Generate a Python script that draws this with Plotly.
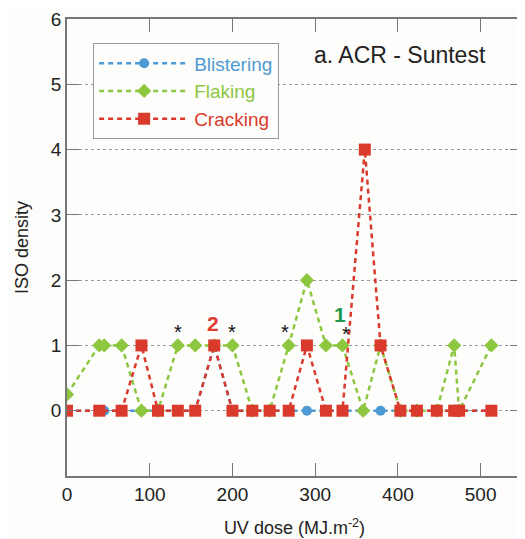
import plotly.graph_objects as go

# ---- data ----
blister_x = [0, 45, 90, 110, 134, 155, 178, 200, 224, 245, 268, 290, 313, 333, 358, 379, 403, 423, 447, 468, 474, 513]
blister_y = [0, 0, 0, 0, 0, 0, 1, 0, 0, 0, 0, 0, 0, 0, 0, 0, 0, 0, 0, 0, 0, 0]

flake_x = [0, 39, 45, 66, 90, 110, 134, 155, 178, 200, 224, 245, 268, 290, 313, 333, 358, 379, 403, 423, 447, 468, 474, 513]
flake_y = [0.25, 1, 1, 1, 0, 0, 1, 1, 1, 1, 0, 0, 1, 2, 1, 1, 0, 1, 0, 0, 0, 1, 0, 1]

crack_x = [0, 39, 66, 90, 110, 134, 155, 178, 200, 224, 245, 268, 290, 313, 333, 360, 379, 403, 423, 447, 468, 474, 513]
crack_y = [0, 0, 0, 1, 0, 0, 0, 1, 0, 0, 0, 0, 1, 0, 0, 4, 1, 0, 0, 0, 0, 0, 0]

star_x = [134, 200, 264, 337]
star_y = [1.2, 1.2, 1.2, 1.18]

x_ticks = [0, 100, 200, 300, 400, 500]
y_ticks = [0, 1, 2, 3, 4, 5, 6]

BLUE = "#4E9AD4"
GREEN = "#8DC63F"
RED = "#DA3A2C"
FONT = "Liberation Sans, Arial, sans-serif"

fig = go.Figure()
fig.add_trace(go.Scatter(
    x=blister_x, y=blister_y, mode="lines+markers",
    name=f"<span style='color:{BLUE}'>Blistering</span>",
    line=dict(color=BLUE, width=2.5, dash="5px,4px"),
    marker=dict(symbol="circle", size=10, color=BLUE)))
fig.add_trace(go.Scatter(
    x=flake_x, y=flake_y, mode="lines+markers",
    name=f"<span style='color:{GREEN}'>Flaking</span>",
    line=dict(color=GREEN, width=2.5, dash="5px,4px"),
    marker=dict(symbol="diamond", size=11, color=GREEN)))
fig.add_trace(go.Scatter(
    x=crack_x, y=crack_y, mode="lines+markers",
    name=f"<span style='color:{RED}'>Cracking</span>",
    line=dict(color=RED, width=2.5, dash="5px,4px"),
    marker=dict(symbol="square", size=12, color=RED)))

annotations = []
for sx, sy in zip(star_x, star_y):
    annotations.append(dict(x=sx, y=sy, text="*", showarrow=False,
                            font=dict(size=20, color="#111", family=FONT)))
annotations.append(dict(x=177, y=1.33, text="<b>2</b>", showarrow=False,
                        font=dict(size=21, color="#E03A2F", family=FONT)))
annotations.append(dict(x=330, y=1.47, text="<b>1</b>", showarrow=False,
                        font=dict(size=21, color="#1E9A4A", family=FONT)))
annotations.append(dict(x=402, y=5.45, text="a. ACR - Suntest", showarrow=False,
                        font=dict(size=23, color="#222", family=FONT)))

# page body has an 8px default margin: figure is sized/offset to compensate
fig.update_layout(
    width=517, height=531,
    margin=dict(l=59, r=3, t=11, b=63),
    paper_bgcolor="#FDFDFB", plot_bgcolor="#FDFDFB",
    font=dict(family=FONT, size=18, color="#222"),
    showlegend=True,
    legend=dict(x=0.057, y=0.947, xanchor="left", yanchor="top",
                bgcolor="#FDFDFB", bordercolor="#999", borderwidth=1.2,
                font=dict(size=19, family=FONT), itemwidth=90,
                tracegroupgap=0),
    annotations=annotations,
    xaxis=dict(range=[0, 550], tickvals=x_ticks, ticks="inside", ticklen=13,
               tickcolor="#777", showline=True, linecolor="#777", linewidth=1.5,
               mirror="ticks", showgrid=False, zeroline=False, automargin=False,
               title=dict(text="UV dose (MJ.m<sup>-2</sup>)", standoff=18,
                          font=dict(size=18)),
               tickfont=dict(size=19)),
    yaxis=dict(range=[-1, 6], tickvals=y_ticks, ticks="inside", ticklen=12,
               tickcolor="#777", showline=True, linecolor="#777", linewidth=1.5,
               mirror="ticks", showgrid=True, gridcolor="#999", gridwidth=1,
               griddash="dot", zeroline=False, automargin=False,
               title=dict(text="ISO density", standoff=18, font=dict(size=18)),
               tickfont=dict(size=19)),
)

fig.write_html("out.html")
